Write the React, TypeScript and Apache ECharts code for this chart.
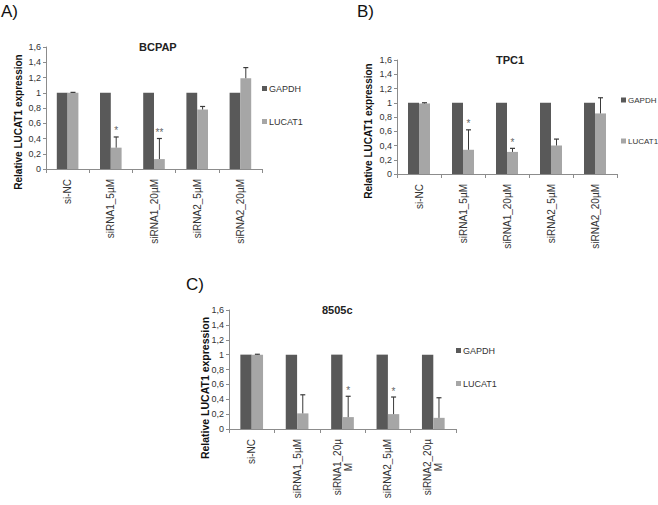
import React, { useEffect, useRef } from "react";
import * as echarts from "echarts";

const categories = ["si-NC", "siRNA1_5µM", "siRNA1_20µM", "siRNA2_5µM", "siRNA2_20µM"];
const categoriesC = ["si-NC", "siRNA1_5µM", "siRNA1_20µ\nM", "siRNA2_5µM", "siRNA2_20µ\nM"];
const yTicks = [0, 0.2, 0.4, 0.6, 0.8, 1, 1.2, 1.4, 1.6];

const gapdhA = [1, 1, 1, 1, 1];
const lucatA = [1.0, 0.28, 0.13, 0.78, 1.19];
const errTopA = [1.005, 0.42, 0.4, 0.82, 1.33];
const starsA = ["", "*", "**", "", ""];

const gapdhB = [1, 1, 1, 1, 1];
const lucatB = [0.99, 0.34, 0.31, 0.4, 0.85];
const errTopB = [1.0, 0.62, 0.36, 0.49, 1.07];
const starsB = ["", "*", "*", "", ""];

const gapdhC = [1, 1, 1, 1, 1];
const lucatC = [1.0, 0.21, 0.16, 0.2, 0.15];
const errTopC = [1.005, 0.46, 0.44, 0.43, 0.42];
const starsC = ["", "", "*", "*", ""];

const FONT = "Liberation Sans, Arial, sans-serif";
const DARK = "#595959";
const LIGHT = "#a6a6a6";

export default function App() {
  const ref = useRef<HTMLDivElement>(null);
  useEffect(() => {
    if (!ref.current) return;
    const chart = echarts.init(ref.current, null, { renderer: "svg" });

    const panels = [
      { name: "BCPAP", cats: categories, gapdh: gapdhA, lucat: lucatA, err: errTopA, stars: starsA,
        grid: { left: 46, top: 47, width: 216, height: 122 },
        title: { left: 139, top: 41 }, legend: { left: 262, top: 84, itemGap: 24, fontSize: 9 },
        yTitle: { x: 18, y: 122, size: 10 } },
      { name: "TPC1", cats: categories, gapdh: gapdhB, lucat: lucatB, err: errTopB, stars: starsB,
        grid: { left: 397, top: 60, width: 220, height: 114 },
        title: { left: 496, top: 54 }, legend: { left: 621, top: 96, itemGap: 33, fontSize: 8 },
        yTitle: { x: 368, y: 131, size: 10 } },
      { name: "8505c", cats: categoriesC, gapdh: gapdhC, lucat: lucatC, err: errTopC, stars: starsC,
        grid: { left: 229, top: 310, width: 227, height: 119 },
        title: { left: 322, top: 304 }, legend: { left: 456, top: 346, itemGap: 24, fontSize: 9 },
        yTitle: { x: 205, y: 388, size: 10.5 } },
    ];

    const grids: any[] = [];
    const xAxes: any[] = [];
    const yAxes: any[] = [];
    const series: any[] = [];
    const titles: any[] = [];
    const legends: any[] = [];
    const graphics: any[] = [
      { type: "text", left: 1, top: 3, style: { text: "A)", font: `17px ${FONT}`, fill: "#111" } },
      { type: "text", left: 357, top: 3, style: { text: "B)", font: `17px ${FONT}`, fill: "#111" } },
      { type: "text", left: 186, top: 276, style: { text: "C)", font: `17px ${FONT}`, fill: "#111" } },
    ];

    panels.forEach((p, i) => {
      grids.push({ ...p.grid, containLabel: false });
      xAxes.push({
        type: "category",
        gridIndex: i,
        data: p.cats,
        axisLine: { lineStyle: { color: "#8c8c8c", width: 1 } },
        axisTick: { show: true, length: 4, lineStyle: { color: "#8c8c8c" } },
        axisLabel: {
          rotate: 90, fontSize: 10, margin: 10, interval: 0, color: "#333", fontFamily: FONT, lineHeight: 11,
          formatter: (v: string) =>
            v.indexOf("\n") >= 0
              ? v.split("\n").map((s, k) => (k === 0 ? `{a|${s}}` : `{b|${s}}`)).join("\n")
              : v,
          rich: {
            a: { fontSize: 10, fontFamily: FONT, color: "#333", lineHeight: 11 },
            b: { fontSize: 10, fontFamily: FONT, color: "#333", lineHeight: 11, align: "center" },
          },
        },
        splitLine: { show: false },
      });
      yAxes.push({
        type: "value",
        gridIndex: i,
        min: 0,
        max: 1.6,
        interval: 0.2,
        axisLine: { show: true, lineStyle: { color: "#8c8c8c", width: 1 } },
        axisTick: { show: true, length: 3, lineStyle: { color: "#8c8c8c" } },
        axisLabel: {
          fontSize: 9, margin: 5, color: "#333", fontFamily: FONT,
          formatter: (v: number) => {
            const t = yTicks.find((k) => Math.abs(k - v) < 1e-6);
            return String(t !== undefined ? t : v).replace(".", ",");
          },
        },
        splitLine: { show: false },
      });
      titles.push({
        text: p.name, left: p.title.left, top: p.title.top, padding: 0,
        textStyle: { fontSize: 11, fontWeight: "bold", color: "#222", fontFamily: FONT },
      });
      legends.push({
        data: ["GAPDH", "LUCAT1"], orient: "vertical", left: p.legend.left, top: p.legend.top,
        itemGap: p.legend.itemGap, itemWidth: 5, itemHeight: 5, padding: 0, icon: "rect",
        textStyle: { fontSize: p.legend.fontSize, color: "#333", fontFamily: FONT, padding: [0, 0, 0, -3] },
        selectedMode: false,
      });
      graphics.push({
        type: "text", x: p.yTitle.x, y: p.yTitle.y, rotation: Math.PI / 2,
        style: { text: "Relative LUCAT1 expression", font: `bold ${p.yTitle.size}px ${FONT}`, fill: "#111", textAlign: "center", textVerticalAlign: "middle" },
      });
      series.push({
        name: "GAPDH", type: "bar", xAxisIndex: i, yAxisIndex: i, data: p.gapdh,
        barGap: "0%", barCategoryGap: "50%", itemStyle: { color: DARK },
      });
      series.push({
        name: "LUCAT1", type: "bar", xAxisIndex: i, yAxisIndex: i, data: p.lucat,
        barGap: "0%", barCategoryGap: "50%", itemStyle: { color: LIGHT },
      });
      const stars = p.stars;
      series.push({
        type: "custom", xAxisIndex: i, yAxisIndex: i,
        data: p.lucat.map((v, k) => [k, v, p.err[k]]),
        encode: { x: 0, y: [1, 2] },
        silent: true,
        z: 5,
        renderItem: (params: any, api: any) => {
          const cat = api.value(0);
          const v = api.value(1);
          const top = api.value(2);
          const base = api.coord([cat, v]);
          const tp = api.coord([cat, top]);
          const band = api.size([1, 0])[0];
          const x = base[0] + band * 0.125;
          const children: any[] = [
            { type: "line", shape: { x1: x, y1: base[1], x2: x, y2: tp[1] }, style: { stroke: "#3a3a3a", lineWidth: 1 } },
            { type: "line", shape: { x1: x - 2.5, y1: tp[1], x2: x + 2.5, y2: tp[1] }, style: { stroke: "#3a3a3a", lineWidth: 1.2 } },
          ];
          const s = stars[params.dataIndex];
          if (s) {
            children.push({
              type: "text", x: x, y: tp[1] - 1,
              style: { text: s, font: `10px ${FONT}`, fill: "#666", textAlign: "center", textVerticalAlign: "bottom" },
            });
          }
          return { type: "group", children };
        },
      });
    });

    chart.setOption({
      animation: false,
      backgroundColor: "#ffffff",
      title: titles,
      legend: legends,
      grid: grids,
      xAxis: xAxes,
      yAxis: yAxes,
      series,
      graphic: graphics,
    });
    return () => chart.dispose();
  }, []);
  return (
    <div
      ref={ref}
      style={{ position: "absolute", left: 0, top: 0, width: 658, height: 505 }}
    />
  );
}
